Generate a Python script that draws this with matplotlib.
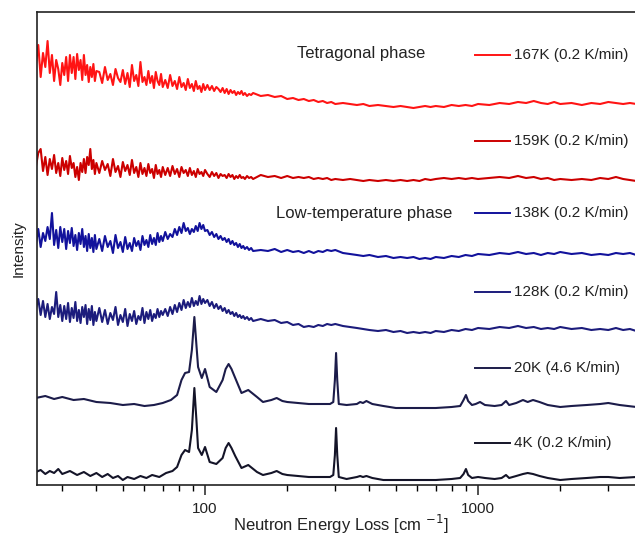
import matplotlib
matplotlib.use("Agg")
import matplotlib.pyplot as plt
from matplotlib.ticker import LogLocator, NullFormatter, FixedLocator

plt.rcParams['font.family'] = ['Liberation Sans', 'DejaVu Sans']

# shared energy grid for the noisy (high-temperature) spectra, cm^-1
x_grid = [24, 24.5, 25, 25.5, 26, 26.5, 27, 27.5, 28, 28.5, 29, 29.5, 30, 30.5, 31, 31.5,
          32, 32.5, 33, 33.5, 34, 34.5, 35, 35.5, 36, 36.5, 37, 37.5, 38, 38.5, 39, 39.5, 40,
          41, 42, 43, 44, 45, 46, 47, 48, 49, 50, 51, 52, 53, 54, 55, 56, 57, 58, 59, 60,
          61, 62, 63, 64, 65, 66, 67, 68, 69, 70,
          71.5, 73, 74.5, 76, 77.5, 79, 80.5, 82, 83.5, 85, 86.5, 88, 89.5, 91, 92.5, 94,
          95.5, 97, 98.5, 100,
          102, 104, 106, 108, 110, 112, 114, 116, 118, 120, 122, 124, 126, 128, 130, 132,
          134, 136, 138, 140, 142.5, 145, 147.5, 150,
          160, 170, 180, 190, 200, 210, 220, 230, 240, 250, 260, 270, 280, 290, 300,
          320, 340, 360, 380, 400,
          430, 460, 490, 520, 550, 580, 610, 640, 670, 700, 750, 800, 850, 900, 950, 1000,
          1100, 1200, 1300, 1400, 1500, 1600, 1700, 1800, 1900, 2000, 2200, 2400, 2600,
          2800, 3000, 3200, 3400, 3600, 3800]

# stacked intensities (arbitrary units, offsets included)
i_167K = [420, 440, 408, 432, 418, 444, 412, 430, 404, 425, 416, 400, 422, 410, 428, 404,
          430, 412, 428, 406, 431, 415, 425, 405, 430, 410, 420, 403, 418, 408, 421, 404, 414,
          413, 402, 418, 405, 411, 400, 416, 407, 403, 415, 401, 412, 398, 420, 404, 410,
          399, 423, 403, 408, 400, 414, 402, 409, 397, 413, 404, 400, 411, 398,
          405, 397, 410, 399, 404, 396, 408, 398, 402, 395, 406, 397, 401, 394, 404, 396,
          399, 393, 401, 395,
          400, 395, 399, 394, 398, 396, 393, 397, 392, 396, 391, 395, 392, 394, 390, 393,
          391, 394, 390, 392, 389, 391, 390, 392,
          389, 390, 388, 389, 386, 387, 385, 386, 384, 385, 383, 384, 382, 383, 381,
          382, 381, 380, 381, 379,
          380, 379, 378, 379, 378, 377, 378, 379, 378, 379, 378, 380, 379, 380, 379, 381,
          380, 382, 381, 383, 382, 384, 382, 381, 383, 381, 382, 380, 382, 381, 383,
          382, 381, 382, 381]

i_159K = [318, 332, 336, 314, 328, 310, 326, 316, 330, 312, 322, 309, 327, 315, 324, 311,
          329, 317, 322, 308, 318, 305, 322, 313, 326, 312, 328, 320, 336, 316, 325, 311, 322,
          312, 324, 315, 321, 309, 326, 313, 319, 308, 323, 314, 320, 310, 325, 312, 318,
          308, 322, 311, 317, 309, 321, 312, 316, 307, 320, 311, 315, 308, 318,
          310, 317, 309, 319, 311, 316, 308, 318, 312, 315, 309, 317, 310, 314, 308, 316,
          311, 313, 309, 315,
          311, 308, 313, 309, 312, 307, 311, 309, 310, 307, 311, 308, 310, 306, 309, 307,
          310, 307, 308, 306, 309, 307, 308, 306,
          310, 308, 309, 307, 309, 307, 308, 307, 308, 306, 307, 306, 307, 305, 306,
          305, 306, 305, 304, 305,
          304, 305, 304, 305, 304, 305, 304, 306, 305, 306, 307, 306, 307, 306, 307, 306,
          307, 308, 307, 309, 307, 308, 306, 307, 305, 306, 305, 306, 305, 307, 306,
          308, 306, 305, 304]

i_138K = [240, 256, 238, 252, 244, 258, 246, 272, 240, 255, 237, 258, 243, 256, 236, 254,
          242, 257, 239, 250, 235, 252, 241, 256, 238, 249, 234, 251, 237, 247, 233, 250, 236,
          246, 234, 249, 238, 244, 232, 250, 237, 243, 233, 248, 236, 242, 234, 247, 239,
          244, 235, 249, 240, 245, 238, 250, 241, 247, 240, 252, 243, 249, 244,
          253, 246, 251, 248, 256, 250, 258, 252, 262, 254, 257, 251, 256, 253, 259, 254,
          262, 256, 260, 254,
          255, 250, 253, 248, 251, 246, 249, 245, 247, 243, 246, 241, 244, 240, 242, 238,
          241, 237, 239, 236, 238, 235, 237, 234,
          235, 234, 236, 233, 235, 233, 234, 232, 234, 232, 234, 233, 235, 234, 235,
          232, 231, 230, 229, 230,
          228, 229, 227, 228, 227, 228, 226, 227, 226, 228, 227, 229, 228, 230, 229, 231,
          230, 232, 231, 233, 231, 232, 230, 232, 231, 233, 231, 232, 230, 231, 230,
          232, 231, 232, 230]

i_128K = [176, 186, 170, 184, 168, 181, 166, 178, 171, 193, 168, 180, 164, 179, 166, 182,
          163, 177, 167, 183, 164, 175, 162, 178, 168, 180, 161, 176, 165, 179, 160, 173, 164,
          177, 163, 175, 161, 172, 165, 178, 160, 170, 163, 176, 159, 171, 164, 174, 161,
          169, 165, 177, 162, 173, 166, 175, 164, 171, 167, 176, 168, 174, 170,
          176, 169, 178, 171, 180, 173, 182, 175, 185, 177, 183, 178, 187, 179, 184, 180,
          189, 181, 186, 182,
          185, 179, 183, 177, 181, 176, 179, 174, 177, 172, 175, 171, 173, 169, 172, 168,
          170, 167, 169, 166, 168, 165, 167, 164,
          166, 164, 165, 162, 163, 160, 161, 158, 159, 158, 160, 159, 161, 160, 161,
          159, 158, 157, 156, 155,
          154, 155, 153, 154, 152, 153, 152, 153, 152, 154, 153, 155, 154, 156, 155, 157,
          156, 158, 157, 159, 157, 158, 156, 157, 156, 158, 156, 157, 155, 156, 155,
          157, 155, 156, 154]

x_20K = [24, 26, 28, 30, 33, 36, 40, 45, 50, 55, 60, 65, 70, 75, 79, 82, 84.5, 87.4, 89.5, 91.4,
         93, 94.3, 97.3, 100, 104, 110, 116, 119, 122, 125, 129, 136, 144, 155, 163, 175, 183,
         192, 200, 240, 287, 295, 299, 302, 305, 309, 330, 360, 370, 379, 390, 410, 450, 500,
         600, 700, 800, 860, 885, 903, 920, 950, 980, 1017, 1060, 1150, 1220, 1266, 1300,
         1380, 1461, 1520, 1590, 1680, 1800, 2000, 2200, 2500, 2800, 3000, 3300, 3800]
i_20K = [87, 89, 86, 88, 85, 86, 83, 82, 80, 81, 79, 80, 82, 85, 90, 105, 112, 113, 135, 168,
         140, 118, 107, 116, 98, 93, 105, 116, 121, 116, 107, 92, 95, 88, 83, 85, 87,
         84, 83, 81, 81, 83, 105, 132, 105, 81, 80, 81, 83, 82, 84, 81, 79, 77,
         77, 77, 78, 79, 85, 90, 84, 80, 81, 83, 80, 79, 80, 84, 80,
         82, 85, 83, 85, 83, 80, 78, 79, 80, 81, 82, 80, 78]

x_4K = [24, 25, 26, 27, 28, 29, 30, 32, 34, 36, 38, 40, 42, 44, 46, 48, 50, 52, 55, 58, 61, 64,
        68, 72, 76, 79, 82, 84.5, 87.4, 89.5, 91.4, 93, 94.3, 97.3, 100, 104, 110, 116, 119,
        122, 125, 129, 136, 144, 155, 163, 175, 183, 192, 200, 240, 287, 295, 299, 302, 305,
        309, 330, 360, 370, 379, 390, 410, 450, 500, 600, 700, 800, 860, 885, 903, 920, 950,
        1000, 1060, 1150, 1220, 1266, 1300, 1380, 1461, 1520, 1590, 1680, 1800, 2000, 2200,
        2500, 2800, 3000, 3300, 3800]
i_4K = [13, 15, 11, 14, 12, 16, 11, 14, 10, 13, 9, 12, 8, 11, 7, 9, 5, 8, 6, 9, 7, 10,
        8, 12, 14, 18, 30, 35, 33, 55, 97, 65, 37, 30, 38, 23, 21, 27, 37,
        42, 37, 29, 17, 20, 13, 10, 12, 14, 11, 10, 8, 8, 10, 30, 57, 30,
        8, 6, 8, 9, 8, 9, 7, 5, 5, 5, 5, 6, 7, 11, 16, 10, 7,
        8, 7, 6, 7, 10, 7, 9, 11, 12, 11, 9, 7, 5, 6,
        7, 8, 8, 7, 8]

labels = ["167K (0.2 K/min)", "159K (0.2 K/min)", "138K (0.2 K/min)",
          "128K (0.2 K/min)", "20K (4.6 K/min)", "4K (0.2 K/min)"]
colors = ["#ff1414", "#cc0000", "#12129c", "#1c1c7c", "#1c1c4a", "#141428"]
phase_texts = ["Tetragonal phase", "Low-temperature phase"]

series = [(x_grid, i_167K), (x_grid, i_159K), (x_grid, i_138K), (x_grid, i_128K),
          (x_20K, i_20K), (x_4K, i_4K)]

fig = plt.figure(figsize=(6.35, 5.39), dpi=100)
ax = fig.add_axes([37 / 635, 54 / 539, 598 / 635, 473 / 539])

for (xs, ys), c in zip(series, colors):
    ax.plot(xs, ys, color=c, lw=1.5, solid_joinstyle='round')

ax.set_xscale('log')
ax.set_xlim(24.24, 3758)
ax.set_ylim(0, 473)

ax.xaxis.set_major_locator(FixedLocator([100, 1000]))
ax.xaxis.set_major_formatter(plt.FuncFormatter(lambda v, p: f"{int(v)}"))
ax.xaxis.set_minor_locator(LogLocator(base=10, subs=range(2, 10)))
ax.xaxis.set_minor_formatter(NullFormatter())
ax.tick_params(axis='x', which='major', direction='out', length=7, width=1.1,
               labelsize=11, pad=5, colors='#222222')
ax.tick_params(axis='x', which='minor', direction='out', length=4, width=1.0)
ax.set_yticks([])
ax.spines['right'].set_visible(False)
for s in ['left', 'top', 'bottom']:
    ax.spines[s].set_linewidth(1.2)
    ax.spines[s].set_color('#222222')

fig.text(341 / 635, 15 / 539, "Neutron Energy Loss [cm $^{-1}$]", fontsize=12,
         ha='center', va='center', color='#222222')
ax.set_ylabel("Intensity", fontsize=11, labelpad=8, color='#222222')

# legend-like annotations next to each curve
ly = [0.909, 0.727, 0.575, 0.408, 0.247, 0.089]
for lab, c, yy in zip(labels, colors, ly):
    ax.plot([0.732, 0.791], [yy, yy], color=c, lw=1.4, transform=ax.transAxes,
            clip_on=False)
    ax.text(0.797, yy, lab, transform=ax.transAxes, fontsize=11, va='center',
            ha='left', color='#222222')

ax.text(0.435, 0.913, phase_texts[0], transform=ax.transAxes, fontsize=12,
        va='center', ha='left', color='#222222')
ax.text(0.400, 0.575, phase_texts[1], transform=ax.transAxes, fontsize=12,
        va='center', ha='left', color='#222222')

fig.savefig("out.png", dpi=100)
